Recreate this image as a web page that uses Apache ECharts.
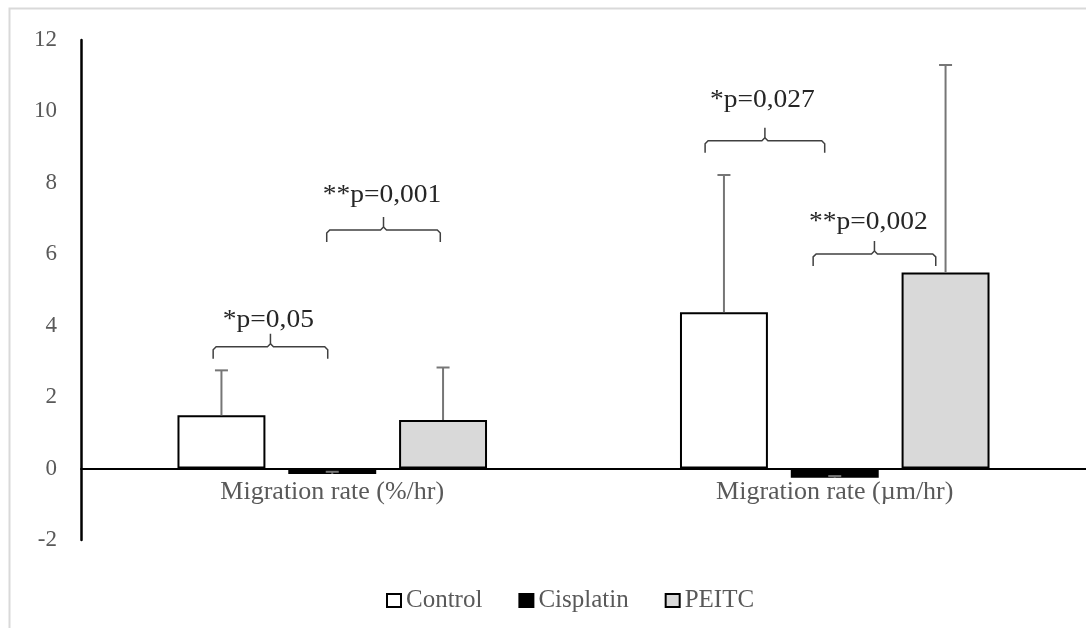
<!DOCTYPE html>
<html>
<head>
<meta charset="utf-8">
<script src="https://cdn.jsdelivr.net/npm/echarts@6/dist/echarts.min.js"></script>
<style>
  html, body { margin: 0; padding: 0; background: #fff; }
  #chart { width: 1086px; height: 628px; }
</style>
</head>
<body>
<div id="chart"></div>
<script>
// Migration rate by treatment (mean with + SD)
const categories = ['Migration rate (%/hr)', 'Migration rate (µm/hr)'];
const seriesNames = ['Control', 'Cisplatin', 'PEITC'];

const controlMean = [1.49, 4.38];
const controlSd = [1.26, 3.84];
const cisplatinMean = [-0.15, -0.26];
const cisplatinSd = [0.06, 0.05];
const peitcMean = [1.36, 5.49];
const peitcSd = [1.47, 5.81];

const yMin = -2;
const yMax = 12;
const yStep = 2;

// significance brackets: category, span (fraction of category band from its centre), level, text
const bracketCategory = [0, 0, 1, 1];
const bracketFrom = [-0.237, -0.011, -0.258, -0.043];
const bracketTo = [-0.009, 0.215, -0.020, 0.201];
const bracketLevel = [3.41, 6.68, 9.18, 6.01];
const bracketText = ['*p=0,05', '**p=0,001', '*p=0,027', '**p=0,002'];
const bracketTextShift = [-0.127, 0.099, -0.144, 0.067];
const bracketTextLevel = [4.16, 7.66, 10.32, 6.89];

const FONT = 'Liberation Serif';
const BAR_GAP = 0.26;
const CAT_GAP = 0.384;

const GRID_TOP = 40;
const GRID_HEIGHT = 500;
// category labels sit just under the zero line, not under the grid bottom
const ZERO_OFFSET = GRID_HEIGHT * (0 - yMin) / (yMax - yMin);

const means = [controlMean, cisplatinMean, peitcMean];
const sds = [controlSd, cisplatinSd, peitcSd];
const fills = ['#ffffff', '#000000', '#d9d9d9'];

const errorData = [];
for (let k = 0; k < 3; k++) {
  for (let c = 0; c < categories.length; c++) {
    errorData.push([c, k, means[k][c], sds[k][c]]);
  }
}
const bracketData = bracketText.map((t, i) => [
  bracketCategory[i], bracketLevel[i], bracketFrom[i], bracketTo[i],
  bracketTextShift[i], bracketTextLevel[i], i
]);

function barCenter(api, cat, k) {
  const band = api.size([1, 0])[0];
  const w = band * (1 - CAT_GAP) / (3 + 2 * BAR_GAP);
  return api.coord([cat, 0])[0] + (k - 1) * w * (1 + BAR_GAP);
}

function renderError(params, api) {
  const cat = api.value(0), k = api.value(1);
  const mean = api.value(2), sd = api.value(3);
  const x = barCenter(api, cat, k);
  const y0 = api.coord([cat, mean])[1];
  const y1 = api.coord([cat, mean + sd])[1];
  const st = { stroke: '#767676', lineWidth: 2 };
  return {
    type: 'group',
    children: [
      { type: 'line', shape: { x1: x, y1: y0, x2: x, y2: y1 }, style: st },
      { type: 'line', shape: { x1: x - 6.5, y1: y1, x2: x + 6.5, y2: y1 }, style: st }
    ]
  };
}

function renderBracket(params, api) {
  const cat = api.value(0);
  const level = api.value(1);
  const band = api.size([1, 0])[0];
  const cx = api.coord([cat, 0])[0];
  const x1 = cx + api.value(2) * band;
  const x2 = cx + api.value(3) * band;
  const xm = (x1 + x2) / 2;
  const y = api.coord([cat, level])[1];
  const drop = 12, rise = 13, r = 3;
  const tx = cx + api.value(4) * band;
  const ty = api.coord([cat, api.value(5)])[1];
  const st = { stroke: '#404040', lineWidth: 1.5, fill: null };
  return {
    type: 'group',
    children: [
      { type: 'polyline', shape: { points: [[x1, y + drop], [x1, y + r], [x1 + r, y], [xm - r, y], [xm, y - r], [xm, y - rise]] }, style: st },
      { type: 'polyline', shape: { points: [[xm, y - r], [xm + r, y], [x2 - r, y], [x2, y + r], [x2, y + drop]] }, style: st },
      { type: 'text', x: tx, y: ty, scaleX: 1.1, style: {
          text: bracketText[api.value(6)], fontFamily: FONT, fontSize: 25,
          fill: '#262626', align: 'center', verticalAlign: 'middle'
        } }
    ]
  };
}

const chart = echarts.init(document.getElementById('chart'), null, { renderer: 'canvas' });

const barSeries = seriesNames.map((name, k) => ({
  name: name,
  type: 'bar',
  data: means[k],
  barGap: (BAR_GAP * 100) + '%',
  barCategoryGap: (CAT_GAP * 100) + '%',
  itemStyle: { color: fills[k], borderColor: '#000', borderWidth: 2 },
  emphasis: { disabled: true },
  z: 2
}));

chart.setOption({
  animation: false,
  backgroundColor: '#ffffff',
  graphic: [{
    type: 'rect', silent: true, z: -10,
    shape: { x: 9.5, y: 8.5, width: 1200, height: 800 },
    style: { fill: null, stroke: '#d9d9d9', lineWidth: 2 }
  }],
  grid: { left: 81, top: GRID_TOP, width: 1017, height: GRID_HEIGHT },
  legend: {
    data: seriesNames,
    left: 381, top: 583,
    itemWidth: 14, itemHeight: 13, itemGap: 36,
    icon: 'rect',
    itemStyle: { borderColor: '#000', borderWidth: 2 },
    textStyle: { fontFamily: FONT, fontSize: 25, color: '#595959' }
  },
  xAxis: {
    type: 'category',
    data: categories,
    axisLine: { onZero: true, lineStyle: { color: '#000', width: 2 } },
    axisTick: { show: false },
    axisLabel: { fontFamily: FONT, fontSize: 26, color: '#595959', margin: 11 - ZERO_OFFSET },
    splitLine: { show: false }
  },
  yAxis: {
    type: 'value',
    min: yMin, max: yMax, interval: yStep,
    axisLine: { show: true, lineStyle: { color: '#000', width: 2.5 } },
    axisTick: { show: false },
    axisLabel: { fontFamily: FONT, fontSize: 23, color: '#595959', margin: 24 },
    splitLine: { show: false }
  },
  series: barSeries.concat([
    {
      type: 'custom',
      renderItem: renderError,
      data: errorData,
      encode: { x: 0, y: 2 },
      silent: true,
      z: 3
    },
    {
      type: 'custom',
      renderItem: renderBracket,
      data: bracketData,
      encode: { x: 0, y: 1 },
      silent: true,
      z: 4
    }
  ])
});
</script>
</body>
</html>
